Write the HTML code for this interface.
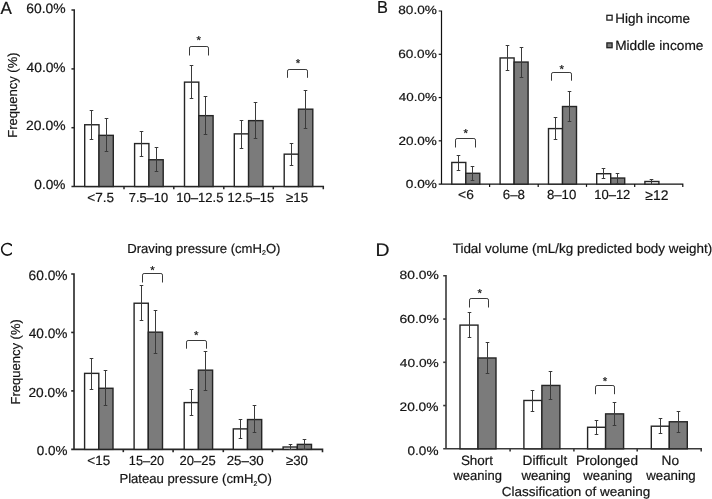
<!DOCTYPE html>
<html><head><meta charset="utf-8"><style>
html,body{margin:0;padding:0;background:#fff;overflow:hidden;}
svg{display:block;will-change:transform;}
text{text-rendering:geometricPrecision;font-family:"Liberation Sans", sans-serif;fill:#141414;stroke:#141414;stroke-width:0.2px;}
</style></head><body>
<svg width="712" height="499" viewBox="0 0 712 499">
<path d="M71.45 10.1 H74.25 V186.5 M71.45 186.5 H323.3 V189.3" fill="none" stroke="#262626" stroke-width="1.5"/>
<line x1="71.45" y1="127.69999999999999" x2="74.25" y2="127.69999999999999" stroke="#262626" stroke-width="1.5"/>
<line x1="71.45" y1="68.89999999999999" x2="74.25" y2="68.89999999999999" stroke="#262626" stroke-width="1.5"/>
<text x="26.19" y="12.57" font-size="13.56" textLength="39.40" lengthAdjust="spacingAndGlyphs">60.0%</text>
<text x="26.58" y="71.57" font-size="13.42" textLength="39.01" lengthAdjust="spacingAndGlyphs">40.0%</text>
<text x="26.10" y="130.27" font-size="13.42" textLength="39.39" lengthAdjust="spacingAndGlyphs">20.0%</text>
<text x="34.37" y="188.87" font-size="13.14" textLength="31.12" lengthAdjust="spacingAndGlyphs">0.0%</text>
<line x1="124" y1="186.5" x2="124" y2="189.3" stroke="#262626" stroke-width="1.5"/>
<line x1="173.8" y1="186.5" x2="173.8" y2="189.3" stroke="#262626" stroke-width="1.5"/>
<line x1="223.8" y1="186.5" x2="223.8" y2="189.3" stroke="#262626" stroke-width="1.5"/>
<line x1="273.3" y1="186.5" x2="273.3" y2="189.3" stroke="#262626" stroke-width="1.5"/>
<rect x="84.7" y="124.76" width="14.3" height="61.74" fill="#fff" stroke="#252525" stroke-width="1.4"/>
<rect x="99" y="135.34" width="14.3" height="51.16" fill="#7b7b7b" stroke="#252525" stroke-width="1.4"/>
<path d="M89.7 110.5 H93.3 M91.5 110.5 V139.5 M89.7 139.5 H93.3" stroke="#3a3a3a" stroke-width="1" fill="none"/>
<path d="M104.7 118.5 H108.3 M106.5 118.5 V151.5 M104.7 151.5 H108.3" stroke="#3a3a3a" stroke-width="1" fill="none"/>
<rect x="134.6" y="143.58" width="14.3" height="42.92" fill="#fff" stroke="#252525" stroke-width="1.4"/>
<rect x="148.9" y="159.75" width="14.3" height="26.75" fill="#7b7b7b" stroke="#252525" stroke-width="1.4"/>
<path d="M139.7 131.5 H143.3 M141.5 131.5 V156.5 M139.7 156.5 H143.3" stroke="#3a3a3a" stroke-width="1" fill="none"/>
<path d="M154.7 147.5 H158.3 M156.5 147.5 V171.5 M154.7 171.5 H158.3" stroke="#3a3a3a" stroke-width="1" fill="none"/>
<rect x="184.5" y="82.13" width="14.3" height="104.37" fill="#fff" stroke="#252525" stroke-width="1.4"/>
<rect x="198.8" y="115.65" width="14.3" height="70.85" fill="#7b7b7b" stroke="#252525" stroke-width="1.4"/>
<path d="M189.7 65.5 H193.3 M191.5 65.5 V98.5 M189.7 98.5 H193.3" stroke="#3a3a3a" stroke-width="1" fill="none"/>
<path d="M203.7 96.5 H207.3 M205.5 96.5 V134.5 M203.7 134.5 H207.3" stroke="#3a3a3a" stroke-width="1" fill="none"/>
<rect x="234.29999999999998" y="133.87" width="14.3" height="52.63" fill="#fff" stroke="#252525" stroke-width="1.4"/>
<rect x="248.6" y="120.64" width="14.3" height="65.86" fill="#7b7b7b" stroke="#252525" stroke-width="1.4"/>
<path d="M239.7 120.5 H243.3 M241.5 120.5 V148.5 M239.7 148.5 H243.3" stroke="#3a3a3a" stroke-width="1" fill="none"/>
<path d="M253.7 102.5 H257.3 M255.5 102.5 V138.5 M253.7 138.5 H257.3" stroke="#3a3a3a" stroke-width="1" fill="none"/>
<rect x="284.2" y="154.16" width="14.3" height="32.34" fill="#fff" stroke="#252525" stroke-width="1.4"/>
<rect x="298.5" y="109.18" width="14.3" height="77.32" fill="#7b7b7b" stroke="#252525" stroke-width="1.4"/>
<path d="M289.7 143.5 H293.3 M291.5 143.5 V165.5 M289.7 165.5 H293.3" stroke="#3a3a3a" stroke-width="1" fill="none"/>
<path d="M303.7 90.5 H307.3 M305.5 90.5 V128.5 M303.7 128.5 H307.3" stroke="#3a3a3a" stroke-width="1" fill="none"/>
<path d="M189.5 55.5 V48.1 Q189.5 46.5 191.1 46.5 H206.9 Q208.5 46.5 208.5 48.1 V55.5" fill="none" stroke="#3a3a3a" stroke-width="1"/>
<text x="198.7" y="44.40" font-size="11.5" text-anchor="middle">*</text>
<path d="M287.5 77.8 V71.1 Q287.5 69.5 289.1 69.5 H305.9 Q307.5 69.5 307.5 71.1 V77.8" fill="none" stroke="#3a3a3a" stroke-width="1"/>
<text x="298" y="67.30" font-size="11.5" text-anchor="middle">*</text>
<text x="87.23" y="201.67" font-size="13.19" textLength="26.84" lengthAdjust="spacingAndGlyphs">&lt;7.5</text>
<text x="128.74" y="201.67" font-size="12.99" textLength="39.36" lengthAdjust="spacingAndGlyphs">7.5–10</text>
<text x="176.20" y="201.67" font-size="13.28" textLength="47.35" lengthAdjust="spacingAndGlyphs">10–12.5</text>
<text x="227.62" y="201.67" font-size="13.28" textLength="46.52" lengthAdjust="spacingAndGlyphs">12.5–15</text>
<text x="285.98" y="201.77" font-size="13.47" textLength="22.08" lengthAdjust="spacingAndGlyphs">≥15</text>
<path d="M438.7 11 H441.5 V184.1 M438.7 184.1 H682.8 V186.9" fill="none" stroke="#111" stroke-width="1.2"/>
<line x1="438.7" y1="140.825" x2="441.5" y2="140.825" stroke="#111" stroke-width="1.2"/>
<line x1="438.7" y1="97.55" x2="441.5" y2="97.55" stroke="#111" stroke-width="1.2"/>
<line x1="438.7" y1="54.275000000000006" x2="441.5" y2="54.275000000000006" stroke="#111" stroke-width="1.2"/>
<text x="398.31" y="13.98" font-size="12.01" textLength="38.58" lengthAdjust="spacingAndGlyphs">80.0%</text>
<text x="398.21" y="57.68" font-size="11.86" textLength="38.58" lengthAdjust="spacingAndGlyphs">60.0%</text>
<text x="398.89" y="101.09" font-size="11.58" textLength="37.98" lengthAdjust="spacingAndGlyphs">40.0%</text>
<text x="398.52" y="144.68" font-size="11.86" textLength="38.36" lengthAdjust="spacingAndGlyphs">20.0%</text>
<text x="405.87" y="188.19" font-size="11.72" textLength="31.02" lengthAdjust="spacingAndGlyphs">0.0%</text>
<line x1="489.6" y1="184.1" x2="489.6" y2="186.9" stroke="#111" stroke-width="1.2"/>
<line x1="538.2" y1="184.1" x2="538.2" y2="186.9" stroke="#111" stroke-width="1.2"/>
<line x1="586.5" y1="184.1" x2="586.5" y2="186.9" stroke="#111" stroke-width="1.2"/>
<line x1="634.7" y1="184.1" x2="634.7" y2="186.9" stroke="#111" stroke-width="1.2"/>
<rect x="451.8" y="162.46" width="14" height="21.64" fill="#fff" stroke="#252525" stroke-width="1.4"/>
<rect x="465.8" y="173.28" width="14" height="10.82" fill="#7b7b7b" stroke="#252525" stroke-width="1.4"/>
<path d="M456.7 155.5 H460.3 M458.5 155.5 V170.5 M456.7 170.5 H460.3" stroke="#3a3a3a" stroke-width="1" fill="none"/>
<path d="M470.7 166.5 H474.3 M472.5 166.5 V180.5 M470.7 180.5 H474.3" stroke="#3a3a3a" stroke-width="1" fill="none"/>
<rect x="500.1" y="57.95" width="14" height="126.15" fill="#fff" stroke="#252525" stroke-width="1.4"/>
<rect x="514.1" y="62.06" width="14" height="122.04" fill="#7b7b7b" stroke="#252525" stroke-width="1.4"/>
<path d="M505.7 45.5 H509.3 M507.5 45.5 V70.5 M505.7 70.5 H509.3" stroke="#3a3a3a" stroke-width="1" fill="none"/>
<path d="M519.7 47.5 H523.3 M521.5 47.5 V77.5 M519.7 77.5 H523.3" stroke="#3a3a3a" stroke-width="1" fill="none"/>
<rect x="548.5" y="128.60" width="14" height="55.50" fill="#fff" stroke="#252525" stroke-width="1.4"/>
<rect x="562.5" y="106.51" width="14" height="77.59" fill="#7b7b7b" stroke="#252525" stroke-width="1.4"/>
<path d="M553.7 117.5 H557.3 M555.5 117.5 V139.5 M553.7 139.5 H557.3" stroke="#3a3a3a" stroke-width="1" fill="none"/>
<path d="M567.7 91.5 H571.3 M569.5 91.5 V121.5 M567.7 121.5 H571.3" stroke="#3a3a3a" stroke-width="1" fill="none"/>
<rect x="596.7" y="173.71" width="14" height="10.39" fill="#fff" stroke="#252525" stroke-width="1.4"/>
<rect x="610.7" y="178.04" width="14" height="6.06" fill="#7b7b7b" stroke="#252525" stroke-width="1.4"/>
<path d="M601.7 168.5 H605.3 M603.5 168.5 V178.5 M601.7 178.5 H605.3" stroke="#3a3a3a" stroke-width="1" fill="none"/>
<path d="M615.7 173.5 H619.3 M617.5 173.5 V183.5 M615.7 183.5 H619.3" stroke="#3a3a3a" stroke-width="1" fill="none"/>
<rect x="644.9" y="181.50" width="14" height="2.60" fill="#fff" stroke="#252525" stroke-width="1.4"/>
<path d="M649.7 179.5 H653.3 M651.5 179.5 V184.5 M649.7 184.5 H653.3" stroke="#3a3a3a" stroke-width="1" fill="none"/>
<path d="M455.5 147.5 V140.1 Q455.5 138.5 457.1 138.5 H473.9 Q475.5 138.5 475.5 140.1 V147.5" fill="none" stroke="#3a3a3a" stroke-width="1"/>
<text x="465.7" y="137.10" font-size="11.5" text-anchor="middle">*</text>
<path d="M551.5 80.7 V74.1 Q551.5 72.5 553.1 72.5 H569.9 Q571.5 72.5 571.5 74.1 V80.7" fill="none" stroke="#3a3a3a" stroke-width="1"/>
<text x="561.7" y="72.90" font-size="11.5" text-anchor="middle">*</text>
<text x="458.12" y="199.47" font-size="13.14" textLength="15.68" lengthAdjust="spacingAndGlyphs">&lt;6</text>
<text x="502.72" y="199.47" font-size="13.14" textLength="22.26" lengthAdjust="spacingAndGlyphs">6–8</text>
<text x="546.93" y="199.47" font-size="13.14" textLength="29.39" lengthAdjust="spacingAndGlyphs">8–10</text>
<text x="594.21" y="199.47" font-size="13.28" textLength="36.14" lengthAdjust="spacingAndGlyphs">10–12</text>
<text x="645.36" y="199.80" font-size="14.04" textLength="23.14" lengthAdjust="spacingAndGlyphs">≥12</text>
<path d="M71.2 274.0 H74.0 V449.35 M71.2 449.35 H322.5 V452.15000000000003" fill="none" stroke="#262626" stroke-width="1.6"/>
<line x1="71.2" y1="390.90000000000003" x2="74.0" y2="390.90000000000003" stroke="#262626" stroke-width="1.6"/>
<line x1="71.2" y1="332.45" x2="74.0" y2="332.45" stroke="#262626" stroke-width="1.6"/>
<text x="28.60" y="279.57" font-size="13.70" textLength="38.99" lengthAdjust="spacingAndGlyphs">60.0%</text>
<text x="28.69" y="338.07" font-size="13.56" textLength="38.80" lengthAdjust="spacingAndGlyphs">40.0%</text>
<text x="28.51" y="396.57" font-size="12.99" textLength="38.88" lengthAdjust="spacingAndGlyphs">20.0%</text>
<text x="36.67" y="455.07" font-size="12.99" textLength="30.71" lengthAdjust="spacingAndGlyphs">0.0%</text>
<line x1="123.3" y1="449.35" x2="123.3" y2="452.15000000000003" stroke="#262626" stroke-width="1.6"/>
<line x1="173.1" y1="449.35" x2="173.1" y2="452.15000000000003" stroke="#262626" stroke-width="1.6"/>
<line x1="223.3" y1="449.35" x2="223.3" y2="452.15000000000003" stroke="#262626" stroke-width="1.6"/>
<line x1="272.5" y1="449.35" x2="272.5" y2="452.15000000000003" stroke="#262626" stroke-width="1.6"/>
<rect x="84.6" y="373.37" width="14.2" height="75.99" fill="#fff" stroke="#252525" stroke-width="1.4"/>
<rect x="98.8" y="388.27" width="14.2" height="61.08" fill="#7b7b7b" stroke="#252525" stroke-width="1.4"/>
<path d="M89.7 358.5 H93.3 M91.5 358.5 V389.5 M89.7 389.5 H93.3" stroke="#3a3a3a" stroke-width="1" fill="none"/>
<path d="M103.7 370.5 H107.3 M105.5 370.5 V405.5 M103.7 405.5 H107.3" stroke="#3a3a3a" stroke-width="1" fill="none"/>
<rect x="134.10000000000002" y="303.23" width="14.2" height="146.12" fill="#fff" stroke="#252525" stroke-width="1.4"/>
<rect x="148.3" y="332.16" width="14.2" height="117.19" fill="#7b7b7b" stroke="#252525" stroke-width="1.4"/>
<path d="M139.7 285.5 H143.3 M141.5 285.5 V320.5 M139.7 320.5 H143.3" stroke="#3a3a3a" stroke-width="1" fill="none"/>
<path d="M153.7 310.5 H157.3 M155.5 310.5 V353.5 M153.7 353.5 H157.3" stroke="#3a3a3a" stroke-width="1" fill="none"/>
<rect x="184.20000000000002" y="402.59" width="14.2" height="46.76" fill="#fff" stroke="#252525" stroke-width="1.4"/>
<rect x="198.4" y="370.15" width="14.2" height="79.20" fill="#7b7b7b" stroke="#252525" stroke-width="1.4"/>
<path d="M189.7 389.5 H193.3 M191.5 389.5 V415.5 M189.7 415.5 H193.3" stroke="#3a3a3a" stroke-width="1" fill="none"/>
<path d="M203.7 351.5 H207.3 M205.5 351.5 V390.5 M203.7 390.5 H207.3" stroke="#3a3a3a" stroke-width="1" fill="none"/>
<rect x="233.3" y="428.89" width="14.2" height="20.46" fill="#fff" stroke="#252525" stroke-width="1.4"/>
<rect x="247.5" y="419.54" width="14.2" height="29.81" fill="#7b7b7b" stroke="#252525" stroke-width="1.4"/>
<path d="M238.7 419.5 H242.3 M240.5 419.5 V438.5 M238.7 438.5 H242.3" stroke="#3a3a3a" stroke-width="1" fill="none"/>
<path d="M252.7 405.5 H256.3 M254.5 405.5 V432.5 M252.7 432.5 H256.3" stroke="#3a3a3a" stroke-width="1" fill="none"/>
<rect x="283.1" y="447.01" width="14.2" height="2.34" fill="#fff" stroke="#252525" stroke-width="1.4"/>
<rect x="297.3" y="444.38" width="14.2" height="4.97" fill="#7b7b7b" stroke="#252525" stroke-width="1.4"/>
<path d="M288.7 444.5 H292.3 M290.5 444.5 V449.5 M288.7 449.5 H292.3" stroke="#3a3a3a" stroke-width="1" fill="none"/>
<path d="M302.7 439.5 H306.3 M304.5 439.5 V449.5 M302.7 449.5 H306.3" stroke="#3a3a3a" stroke-width="1" fill="none"/>
<path d="M142.5 282.5 V275.1 Q142.5 273.5 144.1 273.5 H160.9 Q162.5 273.5 162.5 275.1 V282.5" fill="none" stroke="#3a3a3a" stroke-width="1"/>
<text x="152.5" y="273.90" font-size="11.5" text-anchor="middle">*</text>
<path d="M186.5 348.7 V342.1 Q186.5 340.5 188.1 340.5 H204.9 Q206.5 340.5 206.5 342.1 V348.7" fill="none" stroke="#3a3a3a" stroke-width="1"/>
<text x="196.3" y="338.90" font-size="11.5" text-anchor="middle">*</text>
<text x="87.33" y="465.17" font-size="13.33" textLength="22.93" lengthAdjust="spacingAndGlyphs">&lt;15</text>
<text x="128.83" y="465.17" font-size="13.14" textLength="35.37" lengthAdjust="spacingAndGlyphs">15–20</text>
<text x="179.55" y="465.17" font-size="13.14" textLength="36.20" lengthAdjust="spacingAndGlyphs">20–25</text>
<text x="226.73" y="465.17" font-size="13.28" textLength="36.99" lengthAdjust="spacingAndGlyphs">25–30</text>
<text x="285.98" y="465.37" font-size="13.42" textLength="22.04" lengthAdjust="spacingAndGlyphs">≥30</text>
<path d="M443.2 275.8 H446.0 V448.8 M443.2 448.8 H701.2 V451.6" fill="none" stroke="#3a3a3a" stroke-width="1.6"/>
<line x1="443.2" y1="405.55" x2="446.0" y2="405.55" stroke="#3a3a3a" stroke-width="1.6"/>
<line x1="443.2" y1="362.3" x2="446.0" y2="362.3" stroke="#3a3a3a" stroke-width="1.6"/>
<line x1="443.2" y1="319.05" x2="446.0" y2="319.05" stroke="#3a3a3a" stroke-width="1.6"/>
<text x="399.60" y="279.48" font-size="11.86" textLength="39.19" lengthAdjust="spacingAndGlyphs">80.0%</text>
<text x="399.50" y="323.19" font-size="11.72" textLength="39.30" lengthAdjust="spacingAndGlyphs">60.0%</text>
<text x="399.89" y="366.69" font-size="11.58" textLength="38.90" lengthAdjust="spacingAndGlyphs">40.0%</text>
<text x="399.51" y="410.78" font-size="12.29" textLength="38.98" lengthAdjust="spacingAndGlyphs">20.0%</text>
<text x="407.57" y="454.68" font-size="12.43" textLength="30.91" lengthAdjust="spacingAndGlyphs">0.0%</text>
<line x1="510.1" y1="448.8" x2="510.1" y2="451.6" stroke="#3a3a3a" stroke-width="1.6"/>
<line x1="573.9" y1="448.8" x2="573.9" y2="451.6" stroke="#3a3a3a" stroke-width="1.6"/>
<line x1="637.2" y1="448.8" x2="637.2" y2="451.6" stroke="#3a3a3a" stroke-width="1.6"/>
<rect x="460" y="325.11" width="18" height="123.69" fill="#fff" stroke="#252525" stroke-width="1.4"/>
<rect x="478" y="357.98" width="18" height="90.82" fill="#7b7b7b" stroke="#252525" stroke-width="1.4"/>
<path d="M467.7 312.5 H471.3 M469.5 312.5 V337.5 M467.7 337.5 H471.3" stroke="#3a3a3a" stroke-width="1" fill="none"/>
<path d="M485.7 342.5 H489.3 M487.5 342.5 V373.5 M485.7 373.5 H489.3" stroke="#3a3a3a" stroke-width="1" fill="none"/>
<rect x="523.9" y="400.47" width="18" height="48.33" fill="#fff" stroke="#252525" stroke-width="1.4"/>
<rect x="541.9" y="385.44" width="18" height="63.36" fill="#7b7b7b" stroke="#252525" stroke-width="1.4"/>
<path d="M530.7 390.5 H534.3 M532.5 390.5 V411.5 M530.7 411.5 H534.3" stroke="#3a3a3a" stroke-width="1" fill="none"/>
<path d="M548.7 371.5 H552.3 M550.5 371.5 V399.5 M548.7 399.5 H552.3" stroke="#3a3a3a" stroke-width="1" fill="none"/>
<rect x="587.6" y="427.28" width="18" height="21.52" fill="#fff" stroke="#252525" stroke-width="1.4"/>
<rect x="605.6" y="413.88" width="18" height="34.92" fill="#7b7b7b" stroke="#252525" stroke-width="1.4"/>
<path d="M594.7 420.5 H598.3 M596.5 420.5 V434.5 M594.7 434.5 H598.3" stroke="#3a3a3a" stroke-width="1" fill="none"/>
<path d="M612.7 402.5 H616.3 M614.5 402.5 V425.5 M612.7 425.5 H616.3" stroke="#3a3a3a" stroke-width="1" fill="none"/>
<rect x="651.3" y="426.20" width="18" height="22.60" fill="#fff" stroke="#252525" stroke-width="1.4"/>
<rect x="669.3" y="421.77" width="18" height="27.03" fill="#7b7b7b" stroke="#252525" stroke-width="1.4"/>
<path d="M658.7 418.5 H662.3 M660.5 418.5 V433.5 M658.7 433.5 H662.3" stroke="#3a3a3a" stroke-width="1" fill="none"/>
<path d="M676.7 411.5 H680.3 M678.5 411.5 V432.5 M676.7 432.5 H680.3" stroke="#3a3a3a" stroke-width="1" fill="none"/>
<path d="M469.5 307.5 V300.1 Q469.5 298.5 471.1 298.5 H486.9 Q488.5 298.5 488.5 300.1 V307.5" fill="none" stroke="#3a3a3a" stroke-width="1"/>
<text x="479.8" y="297.20" font-size="11.5" text-anchor="middle">*</text>
<path d="M595.5 394.2 V387.1 Q595.5 385.5 597.1 385.5 H612.9 Q614.5 385.5 614.5 387.1 V394.2" fill="none" stroke="#3a3a3a" stroke-width="1"/>
<text x="605" y="385.20" font-size="11.5" text-anchor="middle">*</text>
<text x="460.89" y="464.70" font-size="13.50" textLength="32.21" lengthAdjust="spacingAndGlyphs">Short</text>
<text x="453.42" y="479.50" font-size="13.50" textLength="48.52" lengthAdjust="spacingAndGlyphs">weaning</text>
<text x="522.58" y="464.60" font-size="13.50" textLength="44.62" lengthAdjust="spacingAndGlyphs">Difficult</text>
<text x="521.42" y="479.50" font-size="13.50" textLength="49.33" lengthAdjust="spacingAndGlyphs">weaning</text>
<text x="575.98" y="464.60" font-size="13.50" textLength="61.99" lengthAdjust="spacingAndGlyphs">Prolonged</text>
<text x="583.32" y="479.50" font-size="13.50" textLength="49.03" lengthAdjust="spacingAndGlyphs">weaning</text>
<text x="661.58" y="464.50" font-size="13.50" textLength="17.50" lengthAdjust="spacingAndGlyphs">No</text>
<text x="646.32" y="479.50" font-size="13.50" textLength="49.33" lengthAdjust="spacingAndGlyphs">weaning</text>
<text x="0.57" y="13.50" font-size="17.59" textLength="11.37" lengthAdjust="spacingAndGlyphs">A</text>
<text x="376.96" y="13.40" font-size="17.44" textLength="10.90" lengthAdjust="spacingAndGlyphs">B</text>
<clipPath id="cc"><rect x="0" y="240" width="12.0" height="20"/></clipPath>
<path clip-path="url(#cc)" d="M12.05 245.89 A5.75 5.8 0 1 0 12.05 252.71" fill="none" stroke="#141414" stroke-width="1.55"/>
<text x="375.41" y="255.80" font-size="18.31" textLength="14.02" lengthAdjust="spacingAndGlyphs">D</text>
<text transform="translate(16.9,95.05) rotate(-90)" font-size="13" text-anchor="middle">Frequency (%)</text>
<text transform="translate(19.6,361.85) rotate(-90)" font-size="13" text-anchor="middle">Frequency (%)</text>
<text x="127.2" y="252.5" font-size="13.1" textLength="153.3" lengthAdjust="spacingAndGlyphs">Draving pressure (cmH<tspan font-size="7" dy="2.8">2</tspan><tspan dy="-2.8">O)</tspan></text>
<text x="119.4" y="483.4" font-size="13.1" textLength="152.5" lengthAdjust="spacingAndGlyphs">Plateau pressure (cmH<tspan font-size="7" dy="2.8">2</tspan><tspan dy="-2.8">O)</tspan></text>
<text x="452.70" y="252.50" font-size="13.50" textLength="259.43" lengthAdjust="spacingAndGlyphs">Tidal volume (mL/kg predicted body weight)</text>
<text x="501.72" y="495.70" font-size="13.00" textLength="148.45" lengthAdjust="spacingAndGlyphs">Classification of weaning</text>
<rect x="606.9" y="15.3" width="5.2" height="4.8" fill="#fff" stroke="#222" stroke-width="1.3"/>
<rect x="606.9" y="42.9" width="5.2" height="4.8" fill="#7b7b7b" stroke="#222" stroke-width="1.3"/>
<text x="615.19" y="22.90" font-size="13.50" textLength="74.90" lengthAdjust="spacingAndGlyphs">High income</text>
<text x="615.18" y="49.75" font-size="13.30" textLength="88.23" lengthAdjust="spacingAndGlyphs">Middle income</text>
</svg>
</body></html>
